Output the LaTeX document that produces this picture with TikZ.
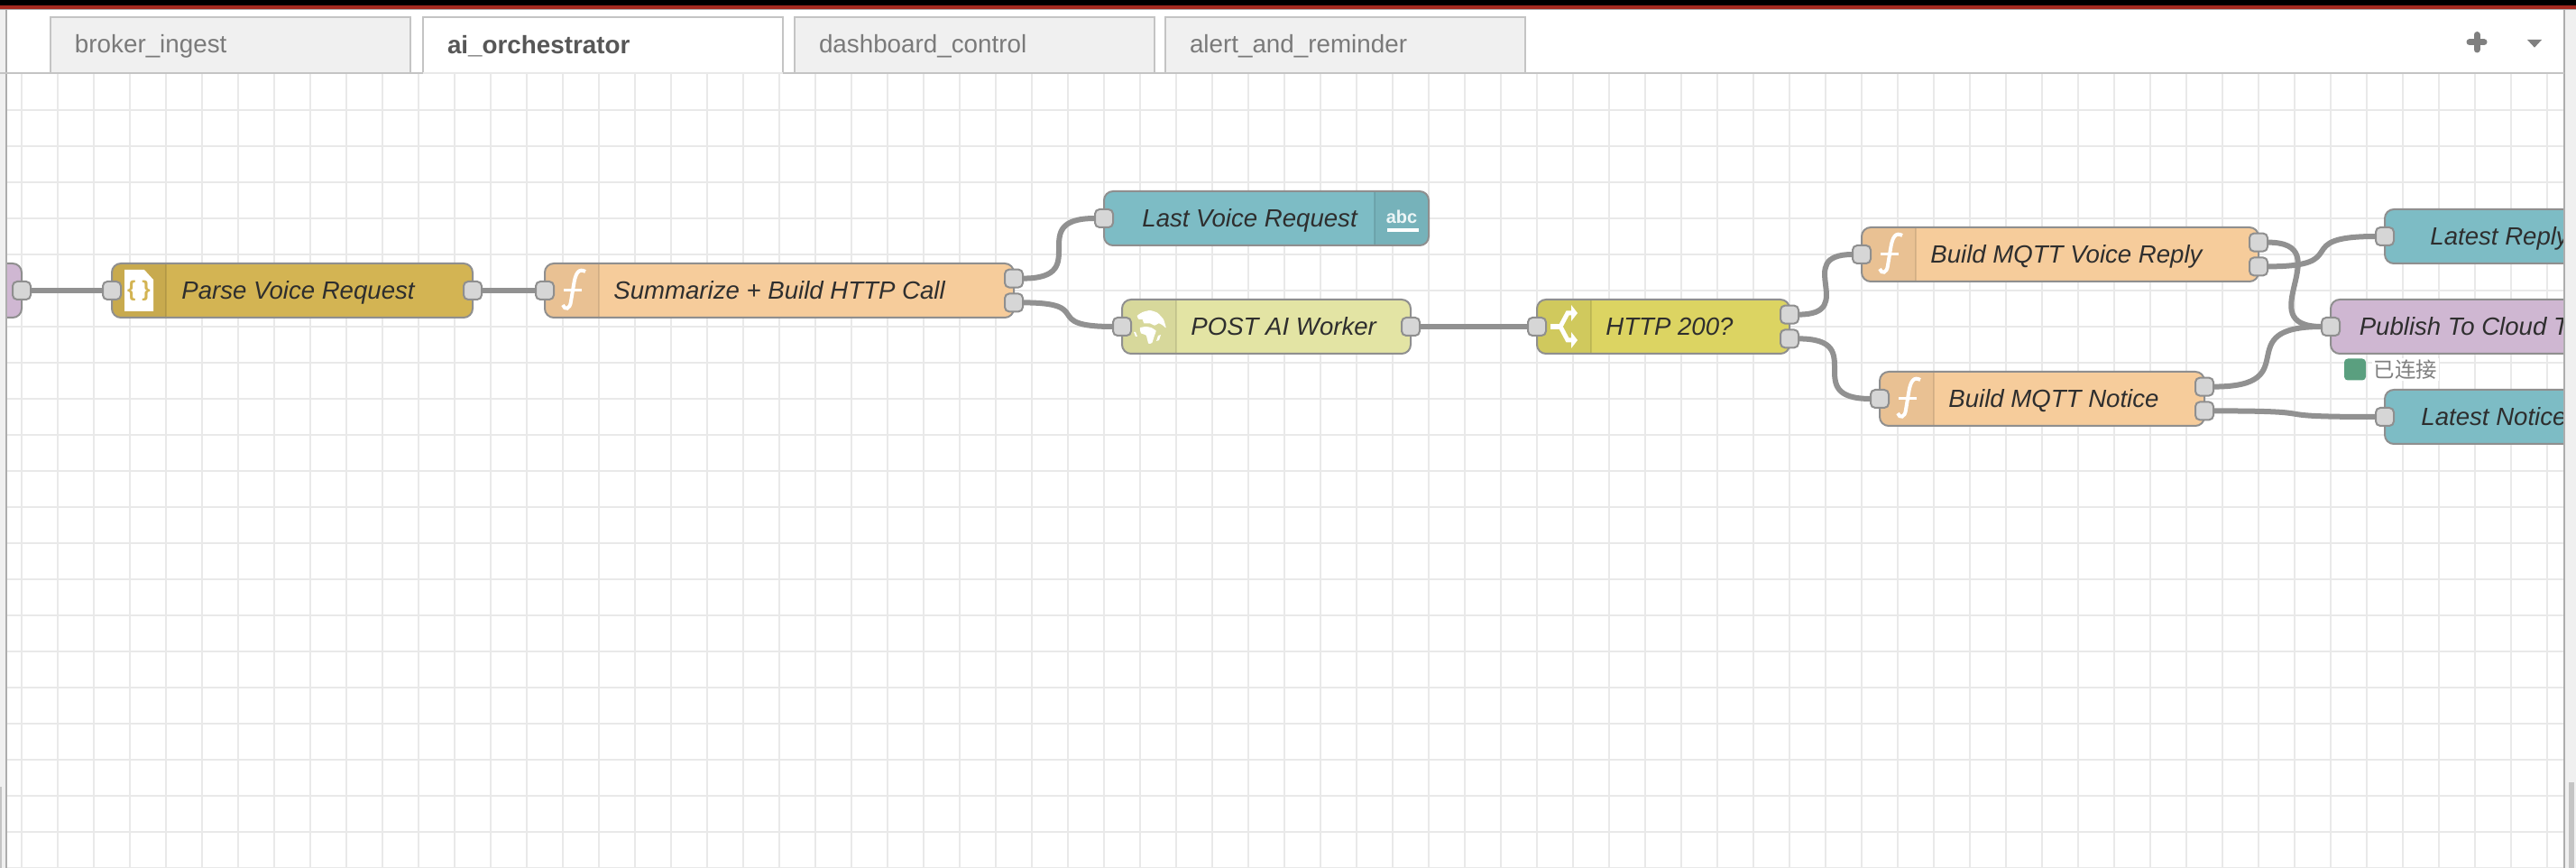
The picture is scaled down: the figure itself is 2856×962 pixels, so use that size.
\documentclass[tikz,border=0pt]{standalone}
\usepackage{fontspec}
\setmainfont{Liberation Sans}
\newfontfamily\cjkfont{Noto Sans CJK SC}
\usetikzlibrary{positioning,backgrounds}

\definecolor{gridgray}{HTML}{E9E9E9}
\definecolor{chromegray}{HTML}{F0F0F0}
\definecolor{edgegray}{HTML}{ADADAD}
\definecolor{tabedge}{HTML}{C4C4C4}
\definecolor{topred}{HTML}{A52A1F}
\definecolor{nodeborder}{HTML}{8F8F8F}
\definecolor{wiregray}{HTML}{919191}
\definecolor{portfill}{HTML}{D6D6D6}
\definecolor{jsoncol}{HTML}{D3B453}
\definecolor{fncol}{HTML}{F6CC9B}
\definecolor{textcol}{HTML}{7DBCC5}
\definecolor{httpcol}{HTML}{E3E4A4}
\definecolor{switchcol}{HTML}{DCD462}
\definecolor{mqttcol}{HTML}{CFB7D2}
\definecolor{statusgreen}{HTML}{5A9F7F}

\tikzset{
  flownode/.style={draw=nodeborder,line width=1pt,rounded corners=5pt,minimum height=30pt,outer sep=0pt,inner sep=0pt},
  leftband/.style={path picture={
    \fill[sharp corners,black,opacity=.05] (path picture bounding box.north west) rectangle ([xshift=30pt]path picture bounding box.south west);
    \draw[sharp corners,black,opacity=.1,line width=.6pt] ([xshift=30pt]path picture bounding box.north west) -- ([xshift=30pt]path picture bounding box.south west);}},
  rightband/.style={path picture={
    \fill[sharp corners,black,opacity=.05] (path picture bounding box.north east) rectangle ([xshift=-30pt]path picture bounding box.south east);
    \draw[sharp corners,black,opacity=.1,line width=.6pt] ([xshift=-30pt]path picture bounding box.north east) -- ([xshift=-30pt]path picture bounding box.south east);}},
  port/.style={draw=nodeborder,fill=portfill,line width=1pt,rounded corners=2.5pt,minimum size=10pt,inner sep=0pt,outer sep=0pt},
  wire/.style={draw=wiregray,line width=3pt},
  nodetext/.style={anchor=west,inner sep=0pt,text=black!82,text height=9.8pt,text depth=0pt,font=\fontsize{13.8pt}{16pt}\itshape\selectfont},
  gridline/.style={draw=gridgray,line width=1pt},
  tab/.style={draw=tabedge,line width=1pt,fill=chromegray,minimum width=199.5pt,minimum height=31pt,inner xsep=13.5pt,inner ysep=0pt,
    outer sep=0pt,text width=172.5pt,align=left,text height=10pt,text depth=1.5pt,text=black!52,font=\fontsize{13.9pt}{16pt}\selectfont},
  activetab/.style={tab,fill=white,text depth=0pt,text=black!66,font=\fontsize{13.9pt}{16pt}\bfseries\selectfont},
  fnicon/.pic={
    \draw[white,line width=2pt] (15,-21) .. controls (8,-25) and (4,-20) .. (2,-6) -- (-1,12) .. controls (-2,21) and (-8,22) .. (-10,16);
    \draw[white,line width=1.5pt] (-9,0) -- (11,0);},
  jsonicon/.pic={
    \fill[white] (-16,-23) -- (6,-23) -- (16,-12) -- (16,23) -- (-16,23) -- cycle;},
  globeicon/.pic={
    \fill[white] plot[smooth cycle,tension=.3] coordinates {(-14.3,-12) (-8.3,-16) (0,-18) (8.3,-15.3) (15,-8) (17.7,1.3) (14.3,-1.3) (10,-3.7) (5,-1.3) (0,-3.7) (-6.7,-3.7) (-8.3,-8) (-12.3,-8)};
    \fill[white] plot[smooth cycle,tension=.3] coordinates {(-11,1.3) (-4.3,0) (1.7,1.3) (6.7,4.7) (5,9.7) (2.3,18) (-1.7,18.7) (-4.3,9.7) (-10,7.3)};
    \fill[white] (-18,6) -- (-16,6) -- (-14,11) -- (-16,11) -- cycle;
    \fill[white] (9,10) -- (12,9) -- (10,15) -- (7,16) -- cycle;},
  switchicon/.pic={
    \draw[white,line width=3pt] (-16,0) -- (-5,0);
    \draw[white,line width=2.5pt] (8,-15) -- (3,-15) -- (-5,0) -- (3,15) -- (8,15);
    \fill[white] (7,-24) -- (14,-15) -- (7,-6) -- cycle;
    \fill[white] (7,6) -- (14,15) -- (7,24) -- cycle;},
}

\begin{document}
\begin{tikzpicture}[x=.5pt,y=-.5pt]
  \useasboundingbox (0,0) rectangle (2856,962);

  % canvas
  \begin{scope}[on background layer]
    \fill[white] (0,0) rectangle (2856,962);
    \foreach \gx in {24,64,...,2824} \draw[gridline] (\gx,82) -- (\gx,962);
    \foreach \gy in {121.7,161.7,...,961.7} \draw[gridline] (8,\gy) -- (2843,\gy);
  \end{scope}

  \begin{scope}
    \clip (8,82) rectangle (2843,962);
    % nodes
    \node(mqttin) at (-56,322) [flownode,fill=mqttcol,minimum width=80pt]{};
    \node(parse) at (324,322) [flownode,leftband,fill=jsoncol,minimum width=200pt]{};
    \node[right=40pt of parse](summarize) [flownode,leftband,fill=fncol,minimum width=260pt]{};
    \node[right=50pt of summarize,yshift=40pt](lastvoice) [flownode,rightband,fill=textcol,minimum width=180pt]{};
    \node[right=60pt of summarize,yshift=-20pt](post) [flownode,leftband,fill=httpcol,minimum width=160pt]{};
    \node[right=70pt of post](httpok) [flownode,leftband,fill=switchcol,minimum width=140pt]{};
    \node[right=40pt of httpok,yshift=40pt](voicereply) [flownode,leftband,fill=fncol,minimum width=220pt]{};
    \node[right=50pt of httpok,yshift=-40pt](notice) [flownode,leftband,fill=fncol,minimum width=180pt]{};
    \node[right=70pt of voicereply,yshift=10pt](latestreply) [flownode,fill=textcol,minimum width=200pt]{};
    \node[right=40pt of voicereply,yshift=-40pt](publish) [flownode,fill=mqttcol,minimum width=200pt]{};
    \node[right=100pt of notice,yshift=-10pt](latestnotice) [flownode,fill=textcol,minimum width=200pt]{};

    % icons
    \pic at ([xshift=15pt]parse.west) {jsonicon};
    \node(parsebraces) at ([xshift=15pt]parse.west) [inner sep=0pt,text=jsoncol,font=\fontsize{12pt}{14pt}\bfseries\selectfont]{\{\hspace{3.5pt}\}};
    \pic at ([xshift=15pt]summarize.west) {fnicon};
    \pic at ([xshift=15pt]voicereply.west) {fnicon};
    \pic at ([xshift=15pt]notice.west) {fnicon};
    \pic at ([xshift=15.5pt]post.west) {globeicon};
    \pic at ([xshift=15.5pt]httpok.west) {switchicon};
    \node(abcicon) at ([xshift=-15pt,yshift=1pt]lastvoice.east) [inner sep=0pt,text=white!85!textcol,font=\fontsize{10pt}{12pt}\bfseries\selectfont]{abc};
    \draw[white,line width=2pt] ([xshift=-23pt,yshift=-6.5pt]lastvoice.east) -- ([xshift=-5.5pt,yshift=-6.5pt]lastvoice.east);

    % labels
    \node(parsetext) at ([xshift=38.5pt]parse.west) [nodetext]{Parse Voice Request};
    \node(summarizetext) at ([xshift=38pt]summarize.west) [nodetext]{Summarize + Build HTTP Call};
    \node(lastvoicetext) at ([xshift=21pt]lastvoice.west) [nodetext]{Last Voice Request};
    \node(posttext) at ([xshift=38pt]post.west) [nodetext]{POST AI Worker};
    \node(httpoktext) at ([xshift=38pt]httpok.west) [nodetext]{HTTP 200?};
    \node(voicereplytext) at ([xshift=38pt]voicereply.west) [nodetext]{Build MQTT Voice Reply};
    \node(noticetext) at ([xshift=38pt]notice.west) [nodetext]{Build MQTT Notice};
    \node(latestreplytext) at ([xshift=25pt]latestreply.west) [nodetext]{Latest Reply};
    \node(publishtext) at ([xshift=15.7pt]publish.west) [nodetext]{Publish To Cloud T};
    \node(latestnoticetext) at ([xshift=20pt]latestnotice.west) [nodetext]{Latest Notice};

    % status under publish
    \node(statusdot) at (2611,409.5) [fill=statusgreen,rounded corners=2pt,minimum size=12pt,inner sep=0pt]{};
    \node(statustext) at (2667,409.5) [fill=white,inner sep=1pt,text=black!50,font=\fontsize{11.7pt}{14pt}\cjkfont\selectfont]{已连接};

    % ports
    \node(mqttout) at (mqttin.east) [port]{};
    \node(parsein) at (parse.west) [port]{};
    \node(parseout) at (parse.east) [port]{};
    \node(summarizein) at (summarize.west) [port]{};
    \node(summarizeouta) at ([yshift=6.7pt]summarize.east) [port]{};
    \node(summarizeoutb) at ([yshift=-6.7pt]summarize.east) [port]{};
    \node(lastvoicein) at (lastvoice.west) [port]{};
    \node(postin) at (post.west) [port]{};
    \node(postout) at (post.east) [port]{};
    \node(httpokin) at (httpok.west) [port]{};
    \node(httpokouta) at ([yshift=6.7pt]httpok.east) [port]{};
    \node(httpokoutb) at ([yshift=-6.7pt]httpok.east) [port]{};
    \node(voicereplyin) at (voicereply.west) [port]{};
    \node(voicereplyouta) at ([yshift=6.7pt]voicereply.east) [port]{};
    \node(voicereplyoutb) at ([yshift=-6.7pt]voicereply.east) [port]{};
    \node(noticein) at (notice.west) [port]{};
    \node(noticeouta) at ([yshift=6.7pt]notice.east) [port]{};
    \node(noticeoutb) at ([yshift=-6.7pt]notice.east) [port]{};
    \node(latestreplyin) at (latestreply.west) [port]{};
    \node(publishin) at (publish.west) [port]{};
    \node(latestnoticein) at (latestnotice.west) [port]{};
  \end{scope}

  % wires
  \begin{scope}[on background layer]
    \draw[wire] (mqttout) -- (parsein);
    \draw[wire] (parseout) -- (summarizein);
    \draw[wire] (summarizeouta) .. controls +(90,0) and +(-90,0) .. (lastvoicein);
    \draw[wire] (summarizeoutb) .. controls +(92,0) and +(-92,0) .. (postin);
    \draw[wire] (postout) -- (httpokin);
    \draw[wire] (httpokouta) .. controls +(78,0) and +(-78,0) .. (voicereplyin);
    \draw[wire] (httpokoutb) .. controls +(90,0) and +(-90,0) .. (noticein);
    \draw[wire] (voicereplyouta) .. controls +(92,0) and +(-92,0) .. (publishin);
    \draw[wire] (voicereplyoutb) .. controls +(108,0) and +(-108,0) .. (latestreplyin);
    \draw[wire] (noticeouta) .. controls +(116,0) and +(-116,0) .. (publishin);
    \draw[wire] (noticeoutb) .. controls +(150,0) and +(-150,0) .. (latestnoticein);
  \end{scope}

  % window frame
  \fill[black] (0,0) rectangle (2856,6);
  \fill[topred] (0,6) rectangle (2856,10);
  \fill[edgegray] (0,10) rectangle (2856,11.5);
  \fill[chromegray] (0,11.5) rectangle (6,962);
  \fill[chromegray] (2844,11.5) rectangle (2856,962);
  \fill[black!23] (0,872) rectangle (2,962);
  \fill[black!23] (2848,867) rectangle (2854,962);
  \draw[edgegray,line width=1pt] (7,11.5) -- (7,962);
  \draw[edgegray,line width=1pt] (2843,11.5) -- (2843,962);
  \draw[tabedge,line width=1pt] (0,81) -- (2843,81);

  % tabs
  \node(tabbroker) at (255.5,50) [tab]{broker\_ingest};
  \node(tabai) at (668.5,50) [activetab]{ai\_orchestrator};
  \node(tabdash) at (1080.5,50) [tab]{dashboard\_control};
  \node(tabalert) at (1491.5,50) [tab]{alert\_and\_reminder};
  \draw[gridline] (tabai.south west) -- (tabai.south east);

  % tab bar buttons
  \draw[black!50,line width=3.5pt,line cap=round] (2738,46.7) -- (2754,46.7);
  \draw[black!50,line width=3.5pt,line cap=round] (2746,38.5) -- (2746,55);
  \fill[black!50] (2802,44) -- (2818,44) -- (2810,52.7) -- cycle;
\end{tikzpicture}
\end{document}
